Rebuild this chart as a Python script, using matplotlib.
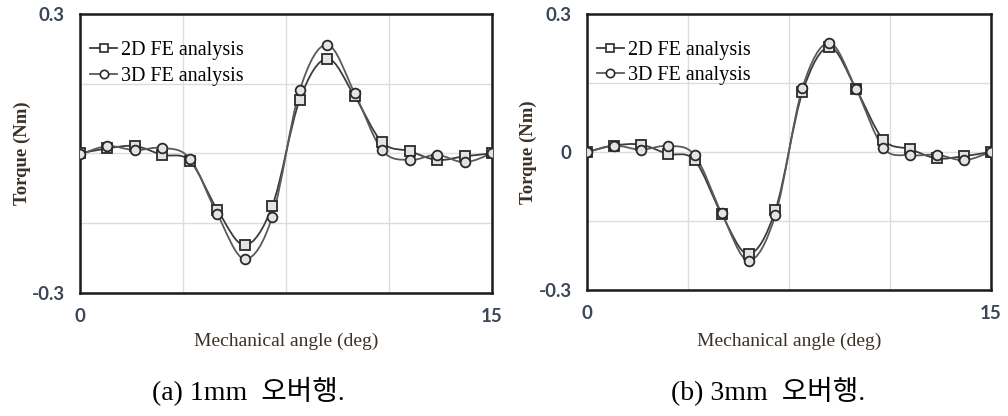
import numpy as np
import matplotlib
matplotlib.use("Agg")
import matplotlib.pyplot as plt
from matplotlib.path import Path
from matplotlib.patches import PathPatch
from matplotlib.lines import Line2D

# mechanical angle (deg)
angle = list(range(16))

# 1mm overhang
fe2d_1mm = [0.0, 0.011, 0.016, -0.003, -0.016, -0.121, -0.197, -0.113,
            0.116, 0.204, 0.123, 0.024, 0.005, -0.014, -0.006, 0.0]
fe3d_1mm = [-0.002, 0.016, 0.007, 0.012, -0.011, -0.131, -0.227, -0.136,
            0.136, 0.234, 0.130, 0.007, -0.014, -0.003, -0.019, 0.0]

# 3mm overhang
fe2d_3mm = [0.0, 0.014, 0.016, -0.004, -0.018, -0.135, -0.222, -0.126,
            0.130, 0.228, 0.136, 0.027, 0.006, -0.014, -0.009, 0.0]
fe3d_3mm = [-0.001, 0.014, 0.005, 0.013, -0.007, -0.133, -0.236, -0.136,
            0.139, 0.237, 0.136, 0.009, -0.007, -0.006, -0.018, 0.0]

captions = ["(a) 1mm  오버행.", "(b) 3mm  오버행."]
legend_labels = ["2D FE analysis", "3D FE analysis"]

serif = "Liberation Serif"
tick_font = "Lato"
tick_col = "#3b4656"
label_col = "#3a3128"


def smooth_path(x, y):
    # excel-like smoothed line: cubic bezier segments through the points
    pts = np.column_stack([np.asarray(x, float), np.asarray(y, float)])
    n = len(pts)
    verts = [pts[0]]
    codes = [Path.MOVETO]
    for i in range(n - 1):
        p0 = pts[i - 1] if i > 0 else pts[i]
        p1 = pts[i]
        p2 = pts[i + 1]
        p3 = pts[i + 2] if i + 2 < n else pts[i + 1]
        verts += [p1 + (p2 - p0) / 6.0, p2 - (p3 - p1) / 6.0, p2]
        codes += [Path.CURVE4] * 3
    return Path(verts, codes)


def draw_panel(ax, s2d, s3d, show_zero):
    ax.set_xlim(0, 15)
    ax.set_ylim(-0.3, 0.3)
    ax.set_xticks([0, 3.75, 7.5, 11.25, 15])
    ax.set_yticks([-0.3, -0.15, 0, 0.15, 0.3])
    ax.grid(True, color="#dcdcdc", lw=1.0)
    ax.set_axisbelow(True)
    ax.tick_params(length=0, pad=11)
    ax.set_xticklabels(["0", "", "", "", "15"])
    ax.set_yticklabels(["-0.3", "", "0" if show_zero else "", "", "0.3"])
    for lab in ax.get_xticklabels() + ax.get_yticklabels():
        lab.set_fontfamily(tick_font)
        lab.set_fontweight("bold")
        lab.set_fontsize(13.5)
        lab.set_color(tick_col)
    for sp in ax.spines.values():
        sp.set_linewidth(1.8)
        sp.set_color("#1a1a1a")

    for s, col in [(s2d, "#3c3c3c"), (s3d, "#5a5a5a")]:
        ax.add_patch(PathPatch(smooth_path(angle, s), fill=False,
                               edgecolor=col, lw=1.3, zorder=3))
    ax.plot(angle, s2d, ls="none", marker="s", ms=7, mfc="#e4e4e4",
            mec="#2a2a2a", mew=1.3, zorder=4)
    ax.plot(angle, s3d, ls="none", marker="o", ms=7, mfc="#e4e4e4",
            mec="#2a2a2a", mew=1.3, zorder=4)

    handles = [
        Line2D([], [], color="#3c3c3c", lw=1.3, marker="s", ms=6,
               mfc="white", mec="#2a2a2a", mew=1.2),
        Line2D([], [], color="#5a5a5a", lw=1.3, marker="o", ms=6,
               mfc="white", mec="#2a2a2a", mew=1.2),
    ]
    ax.legend(handles, legend_labels, loc="upper left", frameon=False,
              bbox_to_anchor=(0.024, 0.902), borderaxespad=0, borderpad=0,
              handlelength=1.35, handletextpad=0.2, labelspacing=0.3,
              prop={"family": serif, "size": 14.5})
    ax.set_ylabel("Torque (Nm)", fontfamily=serif, fontweight="bold",
                  fontsize=13.5, color=label_col)
    ax.set_xlabel("Mechanical angle (deg)", fontfamily=serif, fontsize=14,
                  color=label_col, labelpad=10)


fig = plt.figure(figsize=(10.08, 4.16), dpi=100)
ax1 = fig.add_axes([0.0794, 0.2957, 0.4087, 0.6707])
ax2 = fig.add_axes([0.5823, 0.3029, 0.4008, 0.6635])

draw_panel(ax1, fe2d_1mm, fe3d_1mm, show_zero=False)
draw_panel(ax2, fe2d_3mm, fe3d_3mm, show_zero=True)
ax1.yaxis.set_label_coords(-0.12, 0.5)
ax2.yaxis.set_label_coords(-0.123, 0.5)
ax1.xaxis.set_label_coords(0.5, -0.144)
ax2.xaxis.set_label_coords(0.5, -0.155)

cap_font = [serif, "Noto Sans CJK KR"]
fig.text(248 / 1008, 1 - 392 / 416, captions[0], ha="center", va="center",
         family=cap_font, fontsize=20, color="black")
fig.text(768 / 1008, 1 - 392 / 416, captions[1], ha="center", va="center",
         family=cap_font, fontsize=20, color="black")

fig.savefig("out.png", dpi=100)
